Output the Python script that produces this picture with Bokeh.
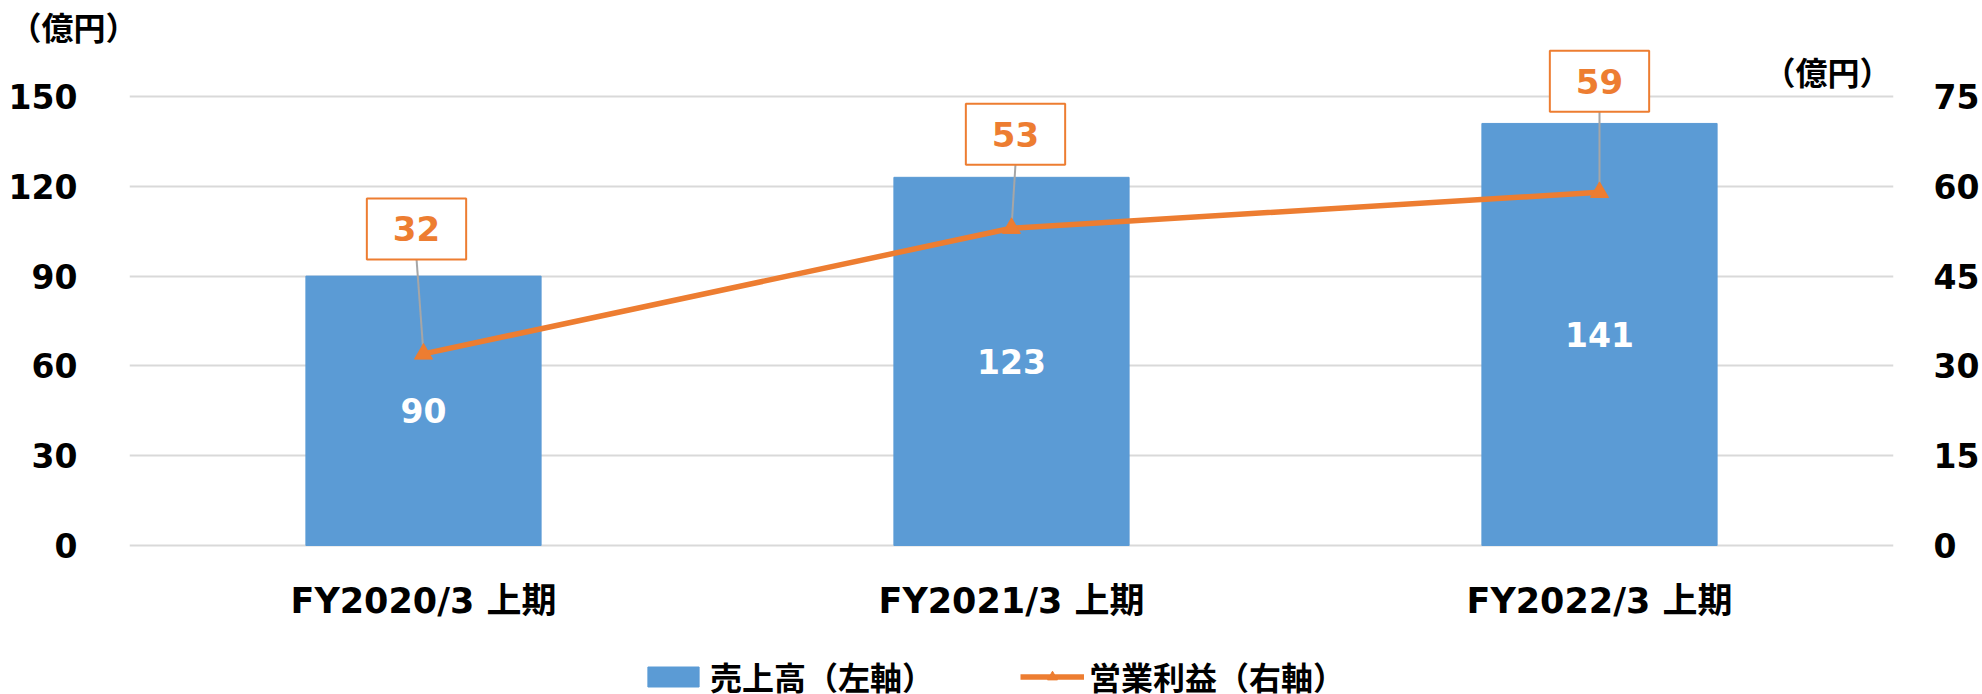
from bokeh.plotting import figure
from bokeh.models import (FactorRange, Range1d, LinearAxis, FixedTicker, Title,
                          Label, Legend, LegendItem, ColumnDataSource)
from bokeh.core.properties import value
from bokeh.embed import file_html
from bokeh.resources import INLINE

# ---- data ----
categories = ["FY2020/3 上期", "FY2021/3 上期", "FY2022/3 上期"]
sales = [90, 123, 141]          # 売上高 (左軸, 億円)
op_income = [32, 53, 59]        # 営業利益 (右軸, 億円)
left_ticks = [0, 30, 60, 90, 120, 150]
right_ticks = [0, 15, 30, 45, 60, 75]
unit_label = "（億円）"
sales_name = "売上高（左軸）"
op_name = "営業利益（右軸）"

# ---- style ----
BLUE = "#5B9BD5"
ORANGE = "#ED7D31"
GRID = "#D9D9D9"
LEADER = "#A6A6A6"
FONT = "'DejaVu Sans', 'Noto Sans CJK JP', sans-serif"
CJK = "'Noto Sans CJK JP', sans-serif"
BL, BR = 129, 86      # left / right borders (px)
FRAME_TOP = 48        # px, frame top (title strip above)
TOP_GAP = 48          # px between frame top and the top tick
FRAME_H = 449         # px from value 0 to the top tick
BOTTOM_GAP = 149      # px between value 0 and the canvas bottom
CAT_PX = 589          # px per category
PX_L = FRAME_H / left_ticks[-1]
PX_R = FRAME_H / right_ticks[-1]
# label-box screen offsets (px) relative to each marker: (dx, dy up)
box_offsets = [(-7, 125), (4, 94), (0, 111)]
BOX_HALF_H = 30

p = figure(width=1982, height=694, x_range=FactorRange(*categories),
           y_range=Range1d(-BOTTOM_GAP / PX_L, left_ticks[-1] + TOP_GAP / PX_L),
           x_axis_location=None, output_backend="svg", toolbar_location=None,
           min_border_left=BL, min_border_right=BR,
           min_border_top=FRAME_TOP, min_border_bottom=0)
p.extra_y_ranges = {"right": Range1d(-BOTTOM_GAP / PX_R, right_ticks[-1] + TOP_GAP / PX_R)}
p.outline_line_color = None

p.yaxis[0].ticker = FixedTicker(ticks=left_ticks)
p.yaxis[0].major_label_standoff = 46
rax = LinearAxis(y_range_name="right", ticker=FixedTicker(ticks=right_ticks))
rax.major_label_standoff = 34
p.add_layout(rax, "right")
for ax in [p.yaxis[0], rax]:
    ax.axis_line_color = None
    ax.major_tick_line_color = None
    ax.minor_tick_line_color = None
    ax.major_label_text_font = FONT
    ax.major_label_text_font_style = "bold"
    ax.major_label_text_font_size = "33px"
    ax.major_label_text_color = "black"

p.xgrid.grid_line_color = None
p.ygrid.grid_line_color = GRID
p.ygrid.grid_line_width = 2
p.ygrid.ticker = FixedTicker(ticks=left_ticks)

# left unit label as a title above the frame
p.add_layout(Title(text=unit_label, align="left", offset=-120, vertical_align="bottom",
                   standoff=0, text_font=CJK, text_font_style="bold",
                   text_font_size="32px", text_color="black"), "above")

# bars
bars = p.vbar(x=categories, top=sales, width=0.4, color=BLUE)

# category labels under the zero line
p.text(x=categories, y=[-55 / PX_L] * len(categories), text=categories,
       text_color="black", text_font=value(FONT), text_font_style="bold",
       text_font_size="35px", text_align="center", text_baseline="middle")

# bar value labels (centre of each bar)
src_bar = ColumnDataSource(dict(x=categories, y=[s / 2 for s in sales],
                                t=[str(s) for s in sales]))
p.text(x="x", y="y", text="t", source=src_bar, text_color="white",
       text_font=value(FONT), text_font_style="bold", text_font_size="33px",
       text_align="center", text_baseline="middle")

# synthetic categorical coordinate (centre of each factor)
cat_pos = [categories.index(c) + 0.5 for c in categories]

# leader lines from marker to label box
src_lead = ColumnDataSource(dict(
    x0=cat_pos, y0=op_income,
    x1=[xp + off[0] / CAT_PX for xp, off in zip(cat_pos, box_offsets)],
    y1=[v + (off[1] - BOX_HALF_H) / PX_R for v, off in zip(op_income, box_offsets)]))
p.segment(x0="x0", y0="y0", x1="x1", y1="y1", source=src_lead,
          y_range_name="right", line_color=LEADER, line_width=2)

# line + markers
ln = p.line(x=categories, y=op_income, y_range_name="right", line_color=ORANGE,
            line_width=5.5)
mk = p.scatter(x=categories, y=op_income, y_range_name="right", marker="triangle",
               size=18, color=ORANGE)

# boxed value labels
for xp, v, off in zip(cat_pos, op_income, box_offsets):
    p.add_layout(Label(x=xp, y=v, y_range_name="right", text=str(v),
                       x_offset=off[0], y_offset=off[1],
                       text_align="center", text_baseline="middle",
                       text_color=ORANGE, text_font=FONT, text_font_style="bold",
                       text_font_size="34px", background_fill_color="white",
                       border_line_color=ORANGE, border_line_width=2,
                       padding=(26, 18)))

# right unit label (top right corner of the frame)
p.add_layout(Label(x=len(categories) - 2 / CAT_PX, y=left_ticks[-1] + 26 / PX_L,
                   text=unit_label, text_align="right", text_baseline="middle",
                   text_font=CJK, text_font_style="bold", text_font_size="32px",
                   text_color="black"))

legend = Legend(items=[LegendItem(label=sales_name, renderers=[bars]),
                       LegendItem(label=op_name, renderers=[ln, mk])],
                orientation="horizontal", location=(512, -5))
legend.label_text_font = CJK
legend.label_text_font_style = "bold"
legend.label_text_font_size = "32px"
legend.label_text_color = "black"
legend.glyph_width = 64
legend.glyph_height = 25
legend.label_standoff = 5
legend.label_width = 310
legend.spacing = -32
legend.padding = 0
legend.margin = 0
legend.border_line_color = None
legend.background_fill_alpha = 0
p.add_layout(legend)

open("out.html", "w").write(file_html(p, INLINE))
